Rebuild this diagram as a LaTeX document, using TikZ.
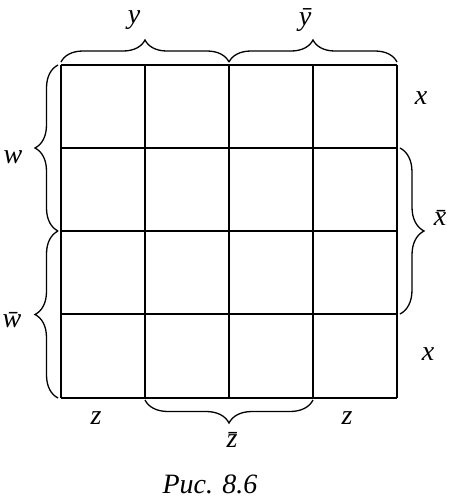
\documentclass[tikz,border=0pt]{standalone}
\usepackage{fontspec}
\setmainfont{Liberation Serif}
\usetikzlibrary{decorations.pathreplacing}
\begin{document}
\begin{tikzpicture}[x=1pt,y=-1pt,
  gridline/.style={line width=1.4pt},
  bracestyle/.style={line width=1.3pt,decorate,decoration={brace,amplitude=#1}},
  lab/.style={font=\fontsize{28}{32}\selectfont\itshape,inner sep=0pt}]
\useasboundingbox (0,0) rectangle (462,499);
% grid coordinates
\foreach \i/\xv in {0/61,1/145,2/229,3/313,4/397}{
  \coordinate (t\i) at (\xv,65);
  \coordinate (b\i) at (\xv,398);
}
\foreach \j/\yv in {0/65,1/148,2/231,3/314,4/398}{
  \coordinate (l\j) at (61,\yv);
  \coordinate (r\j) at (397,\yv);
}
\foreach \i in {0,...,4}{\draw[gridline] (t\i) -- (b\i);}
\foreach \j in {0,...,4}{\draw[gridline] (l\j) -- (r\j);}
\draw[line width=2.6pt] (t0) -- (t4);
\draw[line width=2.4pt] (l0) -- (l2);
% brace end coordinates
\coordinate (ya) at (61,62); \coordinate (yb) at (229,62); \coordinate (yc) at (397,62);
\coordinate (wa) at (58,65); \coordinate (wb) at (58,231); \coordinate (wc) at (58,398);
\coordinate (xa) at (400,148); \coordinate (xb) at (400,314);
\coordinate (za) at (313,400); \coordinate (zb) at (145,400);
\draw[bracestyle=22] (ya) -- (yb);
\draw[bracestyle=22] (yb) -- (yc);
\draw[bracestyle=23] (wb) -- (wa);
\draw[bracestyle=23] (wc) -- (wb);
\draw[bracestyle=24] (xa) -- (xb);
\draw[bracestyle=23] (za) -- (zb);
% labels
\node[lab] (ly) at (134,20) {y};
\node[lab] (lyb) at (305,20) {ȳ};
\node[lab] (lx1) at (421,98) {x};
\node[lab] (lxb) at (440,218) {x̄};
\node[lab] (lx2) at (428,354) {x};
\node[lab] (lw) at (13,157) {w};
\node[lab] (lwb) at (12,320) {w̄};
\node[lab] (lz1) at (96,418) {z};
\node[lab] (lz2) at (347,418) {z};
\node[lab] (lzb) at (232,440) {z̄};
\node[lab] (cap) at (210,484) {Рис. 8.6};
\end{tikzpicture}
\end{document}
